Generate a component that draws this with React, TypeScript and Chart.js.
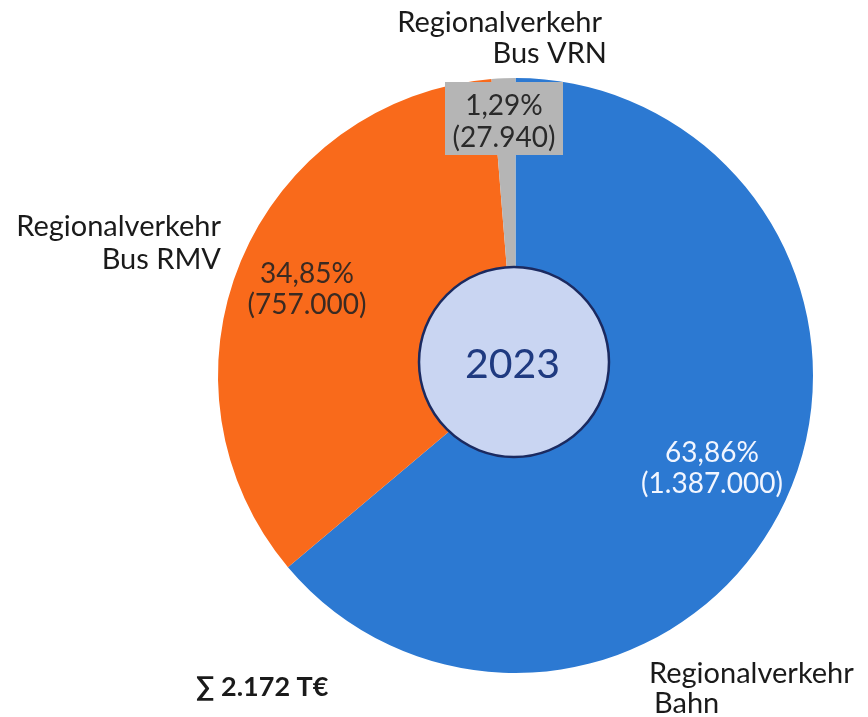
import React, { useEffect, useRef } from "react";
import { Chart, registerables } from "chart.js";

Chart.register(...registerables);

const categories = ["Regionalverkehr Bahn", "Regionalverkehr Bus RMV", "Regionalverkehr Bus VRN"];
const values = [1387000, 757000, 27940];
const valueLabels = ["(1.387.000)", "(757.000)", "(27.940)"];
const colors = ["#2C79D2", "#F96A1B", "#B5B5B5"];
const yearLabel = "2023";
const sumLabel = "\u2211 2.172 T\u20AC";

const FONT = "Lato, 'Noto Sans', sans-serif";

function pct(v: number, total: number): string {
  return ((v / total) * 100).toFixed(2).replace(".", ",") + "%";
}

const labelPlugin = {
  id: "labelPlugin",
  afterDatasetsDraw(chart: any) {
    const ctx = chart.ctx as CanvasRenderingContext2D;
    const meta = chart.getDatasetMeta(0);
    const arc0 = meta.data[0];
    const cx = arc0.x;
    const cy = arc0.y;
    const total = values.reduce((a, b) => a + b, 0);
    ctx.save();

    // gray label box for the small slice
    ctx.fillStyle = colors[2];
    ctx.fillRect(445, 82, 118, 73);

    // centre circle
    ctx.beginPath();
    ctx.arc(cx - 1.5, cy - 13.5, 95, 0, Math.PI * 2);
    ctx.fillStyle = "#C9D5F2";
    ctx.fill();
    ctx.lineWidth = 2.5;
    ctx.strokeStyle = "#1B2A60";
    ctx.stroke();

    ctx.textBaseline = "alphabetic";
    ctx.fillStyle = "#1F3A80";
    ctx.textAlign = "center";
    ctx.font = `41px ${FONT}`;
    ctx.fillText(yearLabel, cx - 3, 378);

    // value labels
    ctx.font = `28px ${FONT}`;
    ctx.fillStyle = "#F2F6FF";
    ctx.fillText(pct(values[0], total), 712, 462);
    ctx.fillText(valueLabels[0], 712, 493);
    ctx.fillStyle = "#3A2A22";
    ctx.fillText(pct(values[1], total), 307, 283);
    ctx.fillText(valueLabels[1], 307, 314);
    ctx.fillStyle = "#2A2A2A";
    ctx.fillText(pct(values[2], total), 504, 115);
    ctx.fillText(valueLabels[2], 504, 147);

    // category labels
    ctx.fillStyle = "#1A1A1A";
    ctx.font = `29px ${FONT}`;
    const [pre0, ...rest0] = categories[0].split(" ");
    const [pre1, ...rest1] = categories[1].split(" ");
    const [pre2, ...rest2] = categories[2].split(" ");
    ctx.textAlign = "right";
    ctx.fillText(pre2, 602, 32);
    ctx.fillText(rest2.join(" "), 607, 63);
    ctx.fillText(pre1, 221, 236);
    ctx.fillText(rest1.join(" "), 221, 269);
    ctx.textAlign = "left";
    ctx.fillText(pre0, 649, 683);
    ctx.fillText(rest0.join(" "), 654, 713);

    ctx.font = `bold 27px ${FONT}`;
    ctx.fillText(sumLabel, 196, 696);
    ctx.restore();
  },
};

export default function App() {
  const ref = useRef<HTMLCanvasElement | null>(null);
  useEffect(() => {
    document.body.style.margin = "0";
    const chart = new Chart(ref.current as HTMLCanvasElement, {
      type: "pie",
      data: {
        labels: categories,
        datasets: [
          {
            data: values,
            backgroundColor: colors,
            borderWidth: 0,
          },
        ],
      },
      options: {
        animation: false,
        responsive: false,
        maintainAspectRatio: false,
        layout: { padding: { left: 218, right: 55, top: 78, bottom: 44 } },
        plugins: {
          legend: { display: false },
          tooltip: { enabled: false },
        },
      },
      plugins: [labelPlugin],
    });
    return () => chart.destroy();
  }, []);
  return (
    <div style={{ position: "absolute", left: 0, top: 0, width: 868, height: 717, background: "#fff" }}>
      <canvas ref={ref} width={868} height={717} />
    </div>
  );
}
